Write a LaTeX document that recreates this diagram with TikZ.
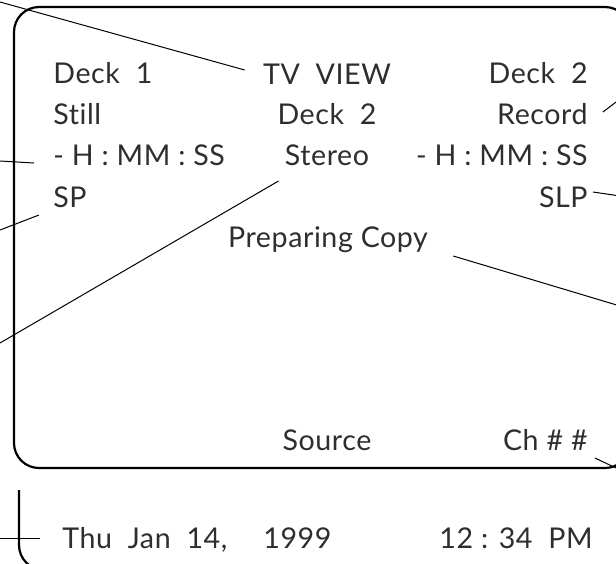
\documentclass[tikz,border=0pt]{standalone}
\usepackage{fontspec}
\setmainfont{Lato}[Ligatures=NoCommon,LetterSpace=2]
\usepackage{tikz}
\definecolor{cT}{HTML}{2E2E2E}
\tikzset{osd/.style={font=\fontsize{14.3}{16}\selectfont,text=cT,inner sep=0pt},
  lead/.style={line width=0.5pt},
  frame/.style={line width=1.1pt,rounded corners=12.5pt}}
\begin{document}
\begin{tikzpicture}[x=0.5pt,y=-0.5pt]
  \useasboundingbox (0,0) rectangle (616,563);
  \clip (0,0) rectangle (616,563);
  \draw[frame] (14,7) rectangle (630,468);
  \draw[frame] (19,490) -- (19,570) -- (80,570);
  % screen text
  \node[osd,anchor=base west] (deckone) at (53,83) {Deck~~1};
  \node[osd,anchor=base west] (still) at (53,124) {Still};
  \node[osd,anchor=base west] (hmsone) at (53,165) {- H : MM : SS};
  \node[osd,anchor=base west] (spone) at (53,207) {SP};
  \node[osd,anchor=base] (tvview) at (327,84) {TV~~VIEW};
  \node[osd,anchor=base] (decktwo) at (327,124) {Deck~~2};
  \node[osd,anchor=base] (stereo) at (327,165) {Stereo};
  \node[osd,anchor=base] (prep) at (328,247) {Preparing Copy};
  \node[osd,anchor=base] (source) at (327,450) {Source};
  \node[osd,anchor=base east] (deckr) at (588,83) {Deck~~2};
  \node[osd,anchor=base east] (record) at (588,124) {Record};
  \node[osd,anchor=base east] (hmstwo) at (588,165) {- H : MM : SS};
  \node[osd,anchor=base east] (slp) at (588,207) {SLP};
  \node[osd,anchor=base east] (chan) at (588,450) {Ch \# \#};
  \node[osd,anchor=base west] (date) at (62,548) {Thu~~Jan~~14,};
  \node[osd,anchor=base west] (year) at (263,548) {1999};
  \node[osd,anchor=base east] (clock) at (593,548) {12 : 34~~PM};
  % leader ends
  \coordinate (ltv) at (0,2);
  \coordinate (lhms) at (0,161);
  \coordinate (lsp) at (0,230);
  \coordinate (lst) at (0,343);
  \coordinate (lrec) at (620,99);
  \coordinate (lslp) at (620,196);
  \coordinate (lprep) at (620,306);
  \coordinate (lch) at (616,468);
  \coordinate (ldate) at (0,538);
  \draw[lead] (ltv) -- ([shift={(-18,-14)}]tvview.base west);
  \draw[lead] (lhms) -- ([shift={(-19,-2)}]hmsone.base west);
  \draw[lead] (lsp) -- ([shift={(-14,8)}]spone.base west);
  \draw[lead] (lst) -- ([shift={(-6,16)}]stereo.base west);
  \draw[lead] (lrec) -- ([shift={(15,-12)}]record.base east);
  \draw[lead] (lslp) -- ([shift={(5,-15)}]slp.base east);
  \draw[lead] (lprep) -- ([shift={(25,9)}]prep.base east);
  \draw[lead] (lch) -- ([shift={(7,8)}]chan.base east);
  \draw[lead] (ldate) -- ([shift={(-22,-10)}]date.base west);
\end{tikzpicture}
\end{document}
